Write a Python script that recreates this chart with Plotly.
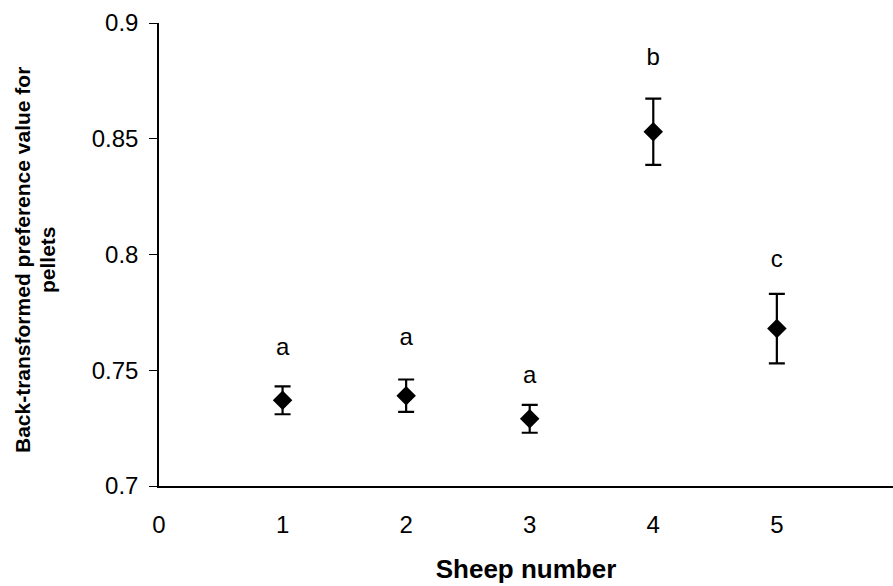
import plotly.graph_objects as go

# Preference for pellets by individual sheep (back-transformed means with error)
sheep = [1, 2, 3, 4, 5]
preference = [0.737, 0.739, 0.729, 0.853, 0.768]
error = [0.006, 0.007, 0.006, 0.0143, 0.015]

# Significance groupings placed above each error bar
group_letters = ["a", "a", "a", "b", "c"]
letter_y = [0.759, 0.7634, 0.7472, 0.8843, 0.7973]

y_tick_vals = [0.7, 0.75, 0.8, 0.85, 0.9]
y_tick_text = ["0.7", "0.75", "0.8", "0.85", "0.9"]
x_tick_vals = [0, 1, 2, 3, 4, 5]
x_tick_text = ["0", "1", "2", "3", "4", "5"]

y_title_lines = ["Back-transformed preference value for", "pellets"]

FONT = "Liberation Sans, Arial, sans-serif"
PLOT_LEFT, PLOT_W, PLOT_TOP, PLOT_H = 159, 734, 23, 463

fig = go.Figure()

fig.add_trace(go.Scatter(
    x=sheep,
    y=preference,
    mode="markers",
    marker=dict(symbol="diamond", size=15, color="black"),
    error_y=dict(type="data", array=error, visible=True,
                 color="black", thickness=2.2, width=8),
    showlegend=False,
    cliponaxis=False,
))

fig.add_trace(go.Scatter(
    x=sheep,
    y=letter_y,
    mode="text",
    text=group_letters,
    textposition="middle center",
    textfont=dict(family=FONT, size=24, color="black"),
    showlegend=False,
))

# Two-line rotated y-axis title, one annotation per line
title_annotations = []
for line, px in zip(y_title_lines, [22, 47]):
    title_annotations.append(dict(
        text=f"<b>{line}</b>",
        xref="paper", yref="paper",
        x=(px - PLOT_LEFT) / PLOT_W, y=(486 - 260) / PLOT_H,
        xanchor="center", yanchor="middle",
        textangle=-90,
        showarrow=False,
        font=dict(family=FONT, size=21, color="black"),
    ))

fig.update_layout(
    width=893,
    height=586,
    margin=dict(l=PLOT_LEFT, r=0, t=PLOT_TOP, b=586 - PLOT_TOP - PLOT_H),
    paper_bgcolor="white",
    plot_bgcolor="white",
    font=dict(family=FONT, color="black"),
    xaxis=dict(
        range=[0, 5.94],
        tickvals=x_tick_vals,
        ticktext=x_tick_text,
        tickfont=dict(family=FONT, size=24, color="black"),
        showgrid=False,
        zeroline=False,
        showline=True,
        linecolor="black",
        linewidth=1.5,
        ticks="",
        ticklabelstandoff=16,
        title=dict(text="<b>Sheep number</b>",
                   font=dict(family=FONT, size=26, color="black"),
                   standoff=23),
    ),
    yaxis=dict(
        range=[0.7, 0.9],
        tickvals=y_tick_vals,
        ticktext=y_tick_text,
        tickfont=dict(family=FONT, size=24, color="black"),
        showgrid=False,
        zeroline=False,
        showline=True,
        linecolor="black",
        linewidth=1.5,
        ticks="outside",
        ticklen=8,
        tickwidth=1.2,
        tickcolor="black",
        ticklabelstandoff=6,
    ),
    annotations=title_annotations,
)

fig.write_html("out.html")
